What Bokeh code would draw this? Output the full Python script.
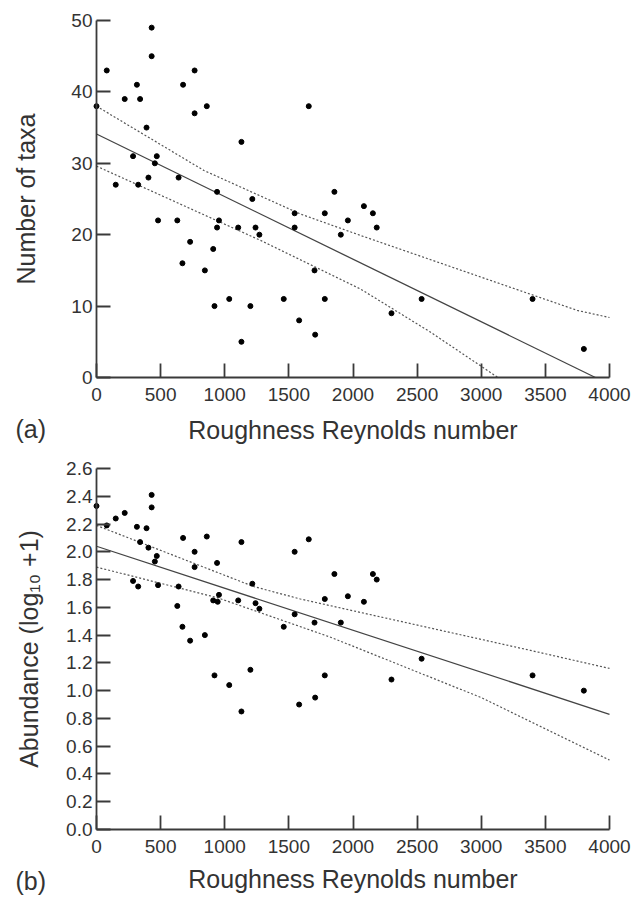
from bokeh.plotting import figure
from bokeh.layouts import column
from bokeh.models import Range1d, FixedTicker, NumeralTickFormatter, Label
from bokeh.embed import file_html
from bokeh.resources import INLINE

# ---------------- data ----------------
x_ticks = [0, 500, 1000, 1500, 2000, 2500, 3000, 3500, 4000]

# (a) Number of taxa
taxa_x = [0, 80, 430, 430, 315, 220, 340, 675, 765, 860, 765, 390, 1655, 1130,
          285, 470, 455, 405, 640, 150, 325, 480, 630, 940, 955, 940, 730, 910,
          670, 845, 920, 1035, 1200, 1130, 1105, 1215, 1240, 1270, 1460, 1545,
          1545, 1580, 1700, 1705, 1780, 1780, 1855, 1905, 1960, 2085, 2155, 2185,
          2535, 3400, 2300, 3800]
taxa_y = [38, 43, 49, 45, 41, 39, 39, 41, 43, 38, 37, 35, 38, 33,
          31, 31, 30, 28, 28, 27, 27, 22, 22, 26, 22, 21, 19, 18,
          16, 15, 10, 11, 10, 5, 21, 25, 21, 20, 11, 23,
          21, 8, 15, 6, 11, 23, 26, 20, 22, 24, 23, 21,
          11, 11, 9, 4]
taxa_fit_x = [0, 3890]
taxa_fit_y = [34.1, 0]
taxa_up_x = [0, 837, 1590, 2058, 3748, 4000]
taxa_up_y = [38.0, 29.0, 22.9, 19.9, 9.4, 8.4]
taxa_lo_x = [0, 1279, 2058, 2600, 3130]
taxa_lo_y = [29.6, 19.2, 12.4, 6.4, 0.0]
taxa_y_ticks = [0, 10, 20, 30, 40, 50]

# (b) Abundance
abun_x = [0, 80, 430, 430, 315, 220, 340, 675, 765, 860, 765, 390, 1655, 1130,
          285, 470, 455, 405, 640, 150, 325, 480, 630, 940, 955, 945, 730, 910,
          670, 845, 920, 1035, 1200, 1130, 1105, 1215, 1240, 1270, 1460, 1545,
          1545, 1580, 1700, 1705, 1780, 1780, 1855, 1905, 1960, 2085, 2155, 2185,
          2535, 3400, 2300, 3800]
abun_y = [2.33, 2.19, 2.41, 2.32, 2.18, 2.28, 2.07, 2.10, 2.00, 2.11, 1.89, 2.17, 2.09, 2.07,
          1.79, 1.97, 1.93, 2.03, 1.75, 2.24, 1.75, 1.76, 1.61, 1.92, 1.69, 1.64, 1.36, 1.65,
          1.46, 1.40, 1.11, 1.04, 1.15, 0.85, 1.65, 1.77, 1.63, 1.59, 1.46, 2.00,
          1.55, 0.90, 1.49, 0.95, 1.11, 1.66, 1.84, 1.49, 1.68, 1.64, 1.84, 1.80,
          1.23, 1.11, 1.08, 1.00]
abun_fit_x = [0, 4000]
abun_fit_y = [2.04, 0.83]
abun_up_x = [0, 1225, 1590, 3384, 4000]
abun_up_y = [2.19, 1.75, 1.66, 1.29, 1.16]
abun_lo_x = [0, 941, 1825, 3000, 4000]
abun_lo_y = [1.89, 1.67, 1.385, 0.95, 0.50]
abun_y_ticks = [0.0, 0.2, 0.4, 0.6, 0.8, 1.0, 1.2, 1.4, 1.6, 1.8, 2.0, 2.2, 2.4, 2.6]

FONT = "Liberation Sans"
AX = "#3a3a3a"
TXT = "#333333"
W = 640
AX_LEFT, AX_RIGHT = 96, 609       # pixel positions of x = 0 and x = 4000
X_MAX = 4000
TAG_LEFT = 15                     # pixel position of the panel tag's left edge


def make(xs, ys, fx, fy, ux, uy, lx, ly, ymax, yticks, ylabel, tag,
         H, ay_top, ay_bottom, ylab_so, xlab_so, tag_top):
    xpp = X_MAX / (AX_RIGHT - AX_LEFT)
    ypp = ymax / (ay_bottom - ay_top)
    xr = Range1d(-AX_LEFT * xpp, X_MAX + (W - AX_RIGHT) * xpp)
    yr = Range1d(-(H - ay_bottom) * ypp, ymax + ay_top * ypp)
    p = figure(width=W, height=H, output_backend="svg", toolbar_location=None,
               x_range=xr, y_range=yr, min_border=0, min_border_left=0,
               min_border_right=0, min_border_top=0, min_border_bottom=0,
               background_fill_color="white", border_fill_color="white")
    p.xgrid.visible = False
    p.ygrid.visible = False
    p.outline_line_color = None
    for ax in (p.xaxis[0], p.yaxis[0]):
        ax.fixed_location = 0
        ax.axis_line_color = AX
        ax.axis_line_width = 1.8
        ax.major_tick_line_color = AX
        ax.major_tick_line_width = 1.8
        ax.major_tick_in = 14
        ax.major_tick_out = 0
        ax.minor_tick_line_color = None
        ax.major_label_text_font = FONT
        ax.major_label_text_font_size = "19px"
        ax.major_label_text_color = TXT
        ax.axis_label_text_font = FONT
        ax.axis_label_text_font_size = "25px"
        ax.axis_label_text_font_style = "normal"
        ax.axis_label_text_color = TXT
    p.xaxis[0].bounds = (0, X_MAX)
    p.xaxis[0].ticker = FixedTicker(ticks=x_ticks)
    p.xaxis[0].major_label_standoff = 10
    p.xaxis[0].axis_label = "Roughness Reynolds number"
    p.xaxis[0].axis_label_standoff = xlab_so
    p.yaxis[0].bounds = (0, ymax)
    p.yaxis[0].ticker = FixedTicker(ticks=yticks)
    p.yaxis[0].major_label_standoff = 4
    p.yaxis[0].axis_label = ylabel
    p.yaxis[0].axis_label_standoff = ylab_so

    p.line(ux, uy, line_color="#555555", line_width=1.2, line_dash="2 2")
    p.line(lx, ly, line_color="#555555", line_width=1.2, line_dash="2 2")
    p.line(fx, fy, line_color="#444444", line_width=1.3)
    p.scatter(xs, ys, size=5, color="black")
    p.add_layout(Label(x=(TAG_LEFT - AX_LEFT) * xpp, y=(ay_bottom - tag_top) * ypp,
                       text=tag, text_font=FONT, text_font_size="25px", text_color=TXT,
                       text_align="left", text_baseline="top"))
    return p


p1 = make(taxa_x, taxa_y, taxa_fit_x, taxa_fit_y, taxa_up_x, taxa_up_y,
          taxa_lo_x, taxa_lo_y, 50, taxa_y_ticks, "Number of taxa", "(a)",
          445, 20, 377, 28, 12, 414)
p2 = make(abun_x, abun_y, abun_fit_x, abun_fit_y, abun_up_x, abun_up_y,
          abun_lo_x, abun_lo_y, 2.6, abun_y_ticks, "Abundance (log\u2081\u2080 +1)", "(b)",
          452, 23, 384, 20, 9, 421)
p2.yaxis[0].formatter = NumeralTickFormatter(format="0.0")

layout = column(p1, p2, spacing=0)
open("out.html", "w").write(file_html(layout, INLINE))
